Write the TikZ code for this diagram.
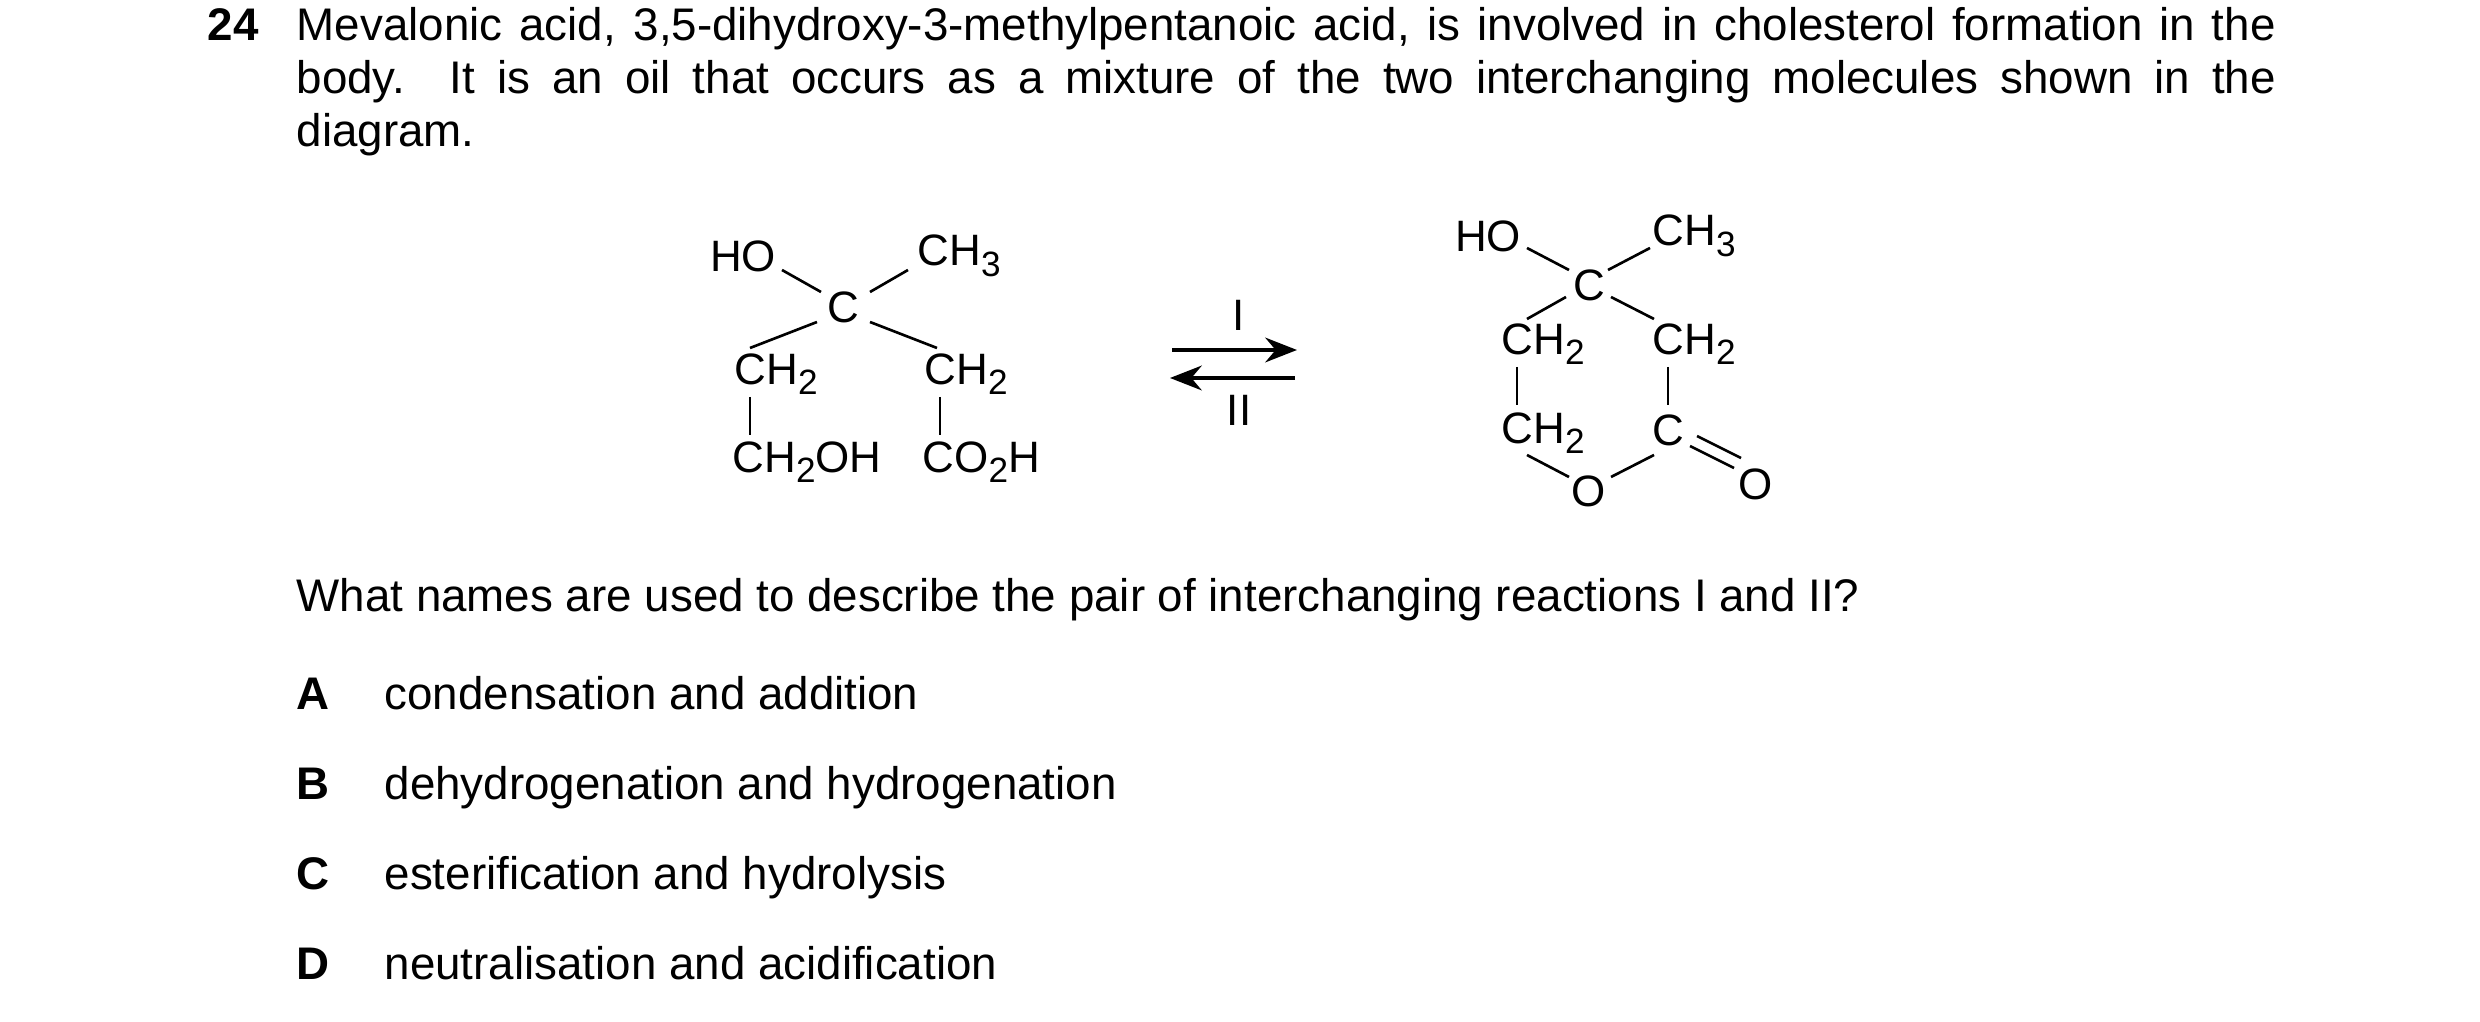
\documentclass[tikz,border=0pt]{standalone}
\usepackage{fontspec}
\setmainfont{Liberation Sans}
\usetikzlibrary{arrows.meta}
\newcommand{\sbs}[1]{\raisebox{-0.45ex}{\fontsize{10pt}{10pt}\selectfont #1}}
\begin{document}
\begin{tikzpicture}[x=0.01cm,y=-0.01cm,
  txt/.style={inner sep=0pt,anchor=base west,font=\fontsize{13pt}{15pt}\selectfont},
  atom/.style={inner sep=0pt,font=\fontsize{12.5pt}{15pt}\selectfont},
  bond/.style={line width=0.75pt},
  arr/.style={line width=1.2pt,-{Stealth[length=9pt,width=7pt]}}]
\useasboundingbox (0,0) rectangle (2480,1022);
\node[txt,font=\fontsize{13pt}{15pt}\selectfont\bfseries] (q) at (207,41) {24};
\node[txt] (l1) at (296,41) {\hbox to 19.78cm{Mevalonic acid, 3,5-dihydroxy-3-methylpentanoic acid, is involved in cholesterol formation in the}};
\node[txt] (l2) at (296,94) {\hbox to 19.78cm{body. It is an oil that occurs as a mixture of the two interchanging molecules shown in the}};
\node[txt] (l3) at (296,147) {diagram.};
% left molecule
\node[atom] (ho1) at (743,256) {HO};
\node[atom,anchor=west] (me1) at (917,256) {CH\sbs{3}};
\node[atom] (c1) at (843,307) {C};
\node[atom,anchor=west] (a1) at (734,374) {CH\sbs{2}};
\node[atom,anchor=west] (b1) at (924,374) {CH\sbs{2}};
\node[atom,anchor=west] (a2) at (732,462) {CH\sbs{2}OH};
\node[atom,anchor=west] (b2) at (922,462) {CO\sbs{2}H};
\draw[bond] (782,270) -- (821,292);
\draw[bond] (870,292) -- (908,270);
\draw[bond] (817,322) -- (750,348);
\draw[bond] (870,322) -- (937,348);
\draw[bond] (750,397) -- (750,435);
\draw[bond] (940,397) -- (940,435);
% arrows
\coordinate (p1) at (1172,350); \coordinate (p2) at (1297,350);
\coordinate (q1) at (1295,378); \coordinate (q2) at (1170,378);
\draw[arr] (p1) -- (p2);
\draw[arr] (q1) -- (q2);
\node[atom] (r1) at (1239,315) {I};
\node[atom] (r2) at (1239,410) {II};
% right molecule
\node[atom] (ho2) at (1488,236) {HO};
\node[atom,anchor=west] (me2) at (1652,236) {CH\sbs{3}};
\node[atom] (c2) at (1589,285) {C};
\node[atom,anchor=west] (d1) at (1501,344) {CH\sbs{2}};
\node[atom,anchor=west] (e1) at (1652,344) {CH\sbs{2}};
\node[atom,anchor=west] (d2) at (1501,433) {CH\sbs{2}};
\node[atom] (e2) at (1668,430) {C};
\node[atom] (o1) at (1589,491) {O};
\node[atom] (o2) at (1756,484) {O};
\draw[bond] (1527,248) -- (1569,270);
\draw[bond] (1608,270) -- (1650,248);
\draw[bond] (1566,297) -- (1527,319);
\draw[bond] (1611,297) -- (1654,319);
\draw[bond] (1517,367) -- (1517,405);
\draw[bond] (1668,367) -- (1668,405);
\draw[bond] (1527,455) -- (1569,477);
\draw[bond] (1611,477) -- (1654,455);
\draw[bond] (1690,446) -- (1734,468);
\draw[bond] (1697,436) -- (1741,458);
% question
\node[txt] (qq) at (296,612) {What names are used to describe the pair of interchanging reactions I and II?};
\node[txt,font=\fontsize{13pt}{15pt}\selectfont\bfseries] (kA) at (296,710) {A};
\node[txt] (tA) at (384,710) {condensation and addition};
\node[txt,font=\fontsize{13pt}{15pt}\selectfont\bfseries] (kB) at (296,800) {B};
\node[txt] (tB) at (384,800) {dehydrogenation and hydrogenation};
\node[txt,font=\fontsize{13pt}{15pt}\selectfont\bfseries] (kC) at (296,890) {C};
\node[txt] (tC) at (384,890) {esterification and hydrolysis};
\node[txt,font=\fontsize{13pt}{15pt}\selectfont\bfseries] (kD) at (296,980) {D};
\node[txt] (tD) at (384,980) {neutralisation and acidification};
\end{tikzpicture}
\end{document}
